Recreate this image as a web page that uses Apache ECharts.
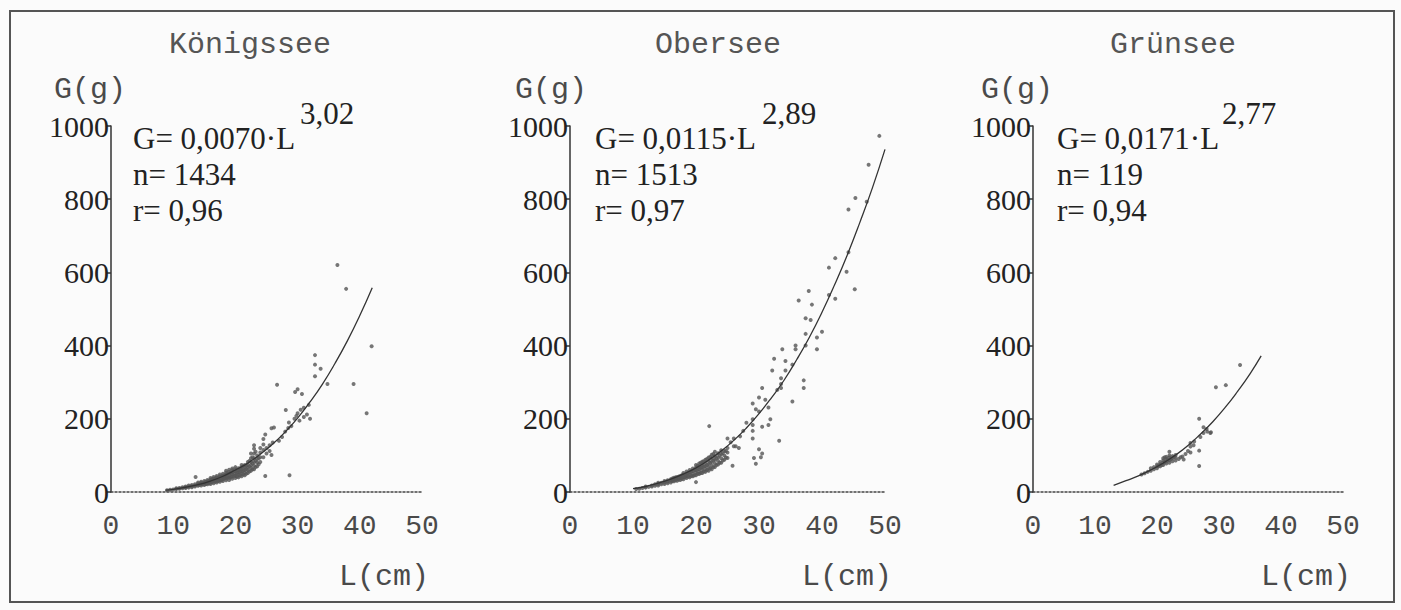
<!DOCTYPE html>
<html>
<head>
<meta charset="utf-8">
<script src="https://cdn.jsdelivr.net/npm/echarts@6/dist/echarts.min.js"></script>
<style>
html,body{margin:0;padding:0;background:#fbfbfb;}
#chart{width:1401px;height:610px;}
</style>
</head>
<body>
<div id="chart"></div>
<script>
// ---------- data ----------
const lakes = ['Königssee', 'Obersee', 'Grünsee'];
const xTicks = [0, 10, 20, 30, 40, 50];
const yTicks = [0, 200, 400, 600, 800, 1000];
const coefficients = ['0,0070', '0,0115', '0,0171'];
const exponents = ['3,02', '2,89', '2,77'];
const nValues = ['1434', '1513', '119'];
const rValues = ['0,96', '0,97', '0,94'];

const koenigsseePoints = [
  [9,5],[9.5,6],[10,7],[10.5,8],[10.5,10],[11,9],[11,11],[11.5,10],[11.5,13],
  [12,11],[12,13],[12,15],[12.5,12],[12.5,15],[12.5,18],
  [13,13],[13,16],[13,19],[13.5,15],[13.5,18],[13.5,21],[13.6,41],
  [14,17],[14,20],[14,23],[14,26],[14.5,18],[14.5,22],[14.5,25],[14.5,28],
  [15,19],[15,23],[15,26],[15,30],[15.5,21],[15.5,25],[15.5,29],[15.5,33],
  [16,22],[16,26],[16,30],[16,34],[16,38],[16.5,24],[16.5,29],[16.5,33],[16.5,37],[16.5,41],
  [17,26],[17,31],[17,35],[17,40],[17,44],[17.5,28],[17.5,33],[17.5,38],[17.5,43],[17.5,48],
  [18,30],[18,35],[18,40],[18,45],[18,50],[18.5,32],[18.5,37],[18.5,42],[18.5,47],[18.5,53],[18.5,58],
  [19,33],[19,39],[19,44],[19,50],[19,55],[19,61],[19.5,36],[19.5,42],[19.5,48],[19.5,54],[19.5,60],[19.5,64],
  [20,38],[20,44],[20,50],[20,56],[20,62],[20,68],[20.5,40],[20.5,47],[20.5,53],[20.5,59],[20.5,65],
  [21,43],[21,50],[21,56],[21,62],[21,68],[21,74],[21.5,46],[21.5,53],[21.5,60],[21.5,67],[21.5,74],
  [22,52],[22,60],[22,67],[22,74],[22,82],[22.5,58],[22.5,66],[22.5,74],[22.5,82],[22.5,92],[22.5,105],
  [23,62],[23,72],[23,82],[23,92],[23,105],[23,118],[23,128],[23.5,70],[23.5,80],[23.5,90],[23.5,100],
  [24,82],[24,95],[24,108],[24,120],[24.5,95],[24.5,115],[24.5,130],[24.5,145],[24.8,157],[24.8,44],
  [25,105],[25,120],[25.5,112],[25.5,128],[25.8,101],[25.8,174],[26,135],
  [18.25,38],[18.25,46],[18.75,40],[18.75,50],[19.25,41],[19.25,52],[19.75,45],[19.75,57],
  [20.25,42],[20.25,51],[20.25,60],[20.75,45],[20.75,55],[20.75,64],[21.25,48],[21.25,58],[21.25,70],
  [21.75,50],[21.75,62],[21.75,72],[22.25,56],[22.25,70],[22.25,85],[22.75,62],[22.75,78],[22.75,95],
  [23.25,68],[23.25,85],[23.25,110],[23.75,76],[23.75,92],[17.25,30],[17.25,38],[17.75,32],[17.75,42],
  [16.25,27],[16.25,35],[16.75,28],[16.75,36],[15.25,22],[15.25,28],[15.75,24],[15.75,30],[14.25,20],[14.75,22],
  [26.2,176],[26.7,293],[27,140],[27.5,150],[28,165],[28.1,224],[28.6,190],[28.7,46],[28.5,175],
  [29,180],[29.5,200],[29.6,273],[29.8,208],[30,215],[30,281],[30.3,195],[30.5,225],[30.7,268],
  [31,230],[31,205],[31.5,212],[31.8,238],[32,200],[32.8,374],[32.8,348],[32.8,316],[33.7,337],
  [34.8,295],[36.4,620],[37.8,555],[39,295],[41.1,215],[41.9,398]
];
const oberseePoints = [
  [10.5,8],[11,9],[11.5,11],[12,12],[12,15],[12.5,14],[13,15],[13,18],[13.5,17],[13.5,21],
  [14,18],[14,22],[14,25],[14.5,21],[14.5,25],[15,22],[15,26],[15,30],[15.5,24],[15.5,28],[15.5,32],
  [16,26],[16,31],[16,35],[16.5,29],[16.5,34],[16.5,39],[17,31],[17,36],[17,41],[17.5,33],[17.5,38],[17.5,44],
  [18,35],[18,41],[18,47],[18,52],[18.5,38],[18.5,44],[18.5,50],[18.5,56],
  [19,40],[19,47],[19,53],[19,60],[19.5,43],[19.5,50],[19.5,57],[19.5,64],
  [20,27],[20,46],[20,53],[20,60],[20,67],[20,74],[20.5,49],[20.5,56],[20.5,63],[20.5,70],[20.5,78],
  [21,52],[21,60],[21,67],[21,75],[21,83],[21.5,55],[21.5,63],[21.5,71],[21.5,80],[21.5,88],
  [22,58],[22,67],[22,76],[22,85],[22,94],[22.1,180],[22.5,62],[22.5,72],[22.5,82],[22.5,92],[22.5,102],
  [23,68],[23,78],[23,88],[23,98],[23,110],[23.5,75],[23.5,85],[23.5,95],[23.5,106],
  [24,80],[24,92],[24,104],[24,114],[24.5,88],[24.5,100],[24.5,112],[25,93],[25,108],[25,120],
  [18.25,40],[18.25,48],[18.75,42],[18.75,52],[19.25,44],[19.25,56],[19.75,46],[19.75,60],
  [20.25,50],[20.25,62],[20.25,72],[20.75,52],[20.75,66],[20.75,80],[21.25,56],[21.25,70],[21.25,84],
  [21.75,60],[21.75,74],[21.75,90],[22.25,64],[22.25,80],[22.25,96],[22.75,68],[22.75,86],[22.75,104],
  [23.25,74],[23.25,92],[23.75,80],[23.75,100],[24.25,86],[24.25,106],[24.75,94],[24.75,112],
  [17.25,34],[17.25,42],[17.75,36],[17.75,46],[16.25,30],[16.25,37],[16.75,32],[16.75,40],
  [25.8,72],[25,146],[25.5,136],[26,125],[26,146],[26.3,125],[26.8,120],[27,152],[27.5,167],[28,189],
  [29,146],[29,167],[29,183],[29,199],[29.2,93],[29.5,77],[30,117],[30.3,95],[30.5,105],
  [29,242],[29.5,226],[30,220],[30.5,178],[30.5,284],[30,258],[31,252],[31.5,231],[31.8,199],[31.5,183],
  [32.1,332],[32.4,364],[32.9,279],[33.2,140],[33.5,311],[33.5,295],[33.5,284],[33.7,390],[34.2,358],[34.2,332],
  [35.3,348],[35.3,247],[35.8,400],[35.8,390],[36.3,523],[37.1,305],[37.1,284],[37.4,432],[37.4,400],[37.4,475],
  [37.9,549],[38.2,470],[38.4,512],[39.2,422],[39.2,390],[40,438],[41.1,538],[41.1,613],[42.1,528],[42.1,639],
  [43.9,602],[44.2,655],[44.2,772],[45.2,554],[45.3,803],[47.1,793],[47.4,894],[49.1,973]
];
const gruenseePoints = [
  [17.5,48],[18,51],[18.5,55],[19,58],[19,65],[19.5,62],[19.5,68],[20,65],[20,70],[20,75],
  [20.5,70],[20.5,76],[20.5,82],[21,74],[21,80],[21,86],[21,92],[21.5,78],[21.5,84],[21.5,90],[21.5,96],
  [22,80],[22,87],[22,94],[22,100],[22,110],[22.5,84],[22.5,92],[22.5,98],[23,86],[23,94],[23,101],
  [20.25,72],[20.75,74],[21.25,82],[21.25,95],[21.75,88],[22.25,90],[22.75,96],
  [23.5,90],[23.8,95],[24.3,89],[24.1,97],[24.6,104],[25,112],[25.4,108],[25.4,124],[25.4,134],
  [25.9,128],[26,138],[26.8,113],[26.8,71],[26.8,200],[27,150],[27.5,161],[27.5,177],[28,172],
  [28.1,165],[28.6,161],[28.7,163],[29.5,286],[31.1,292],[33.4,347]
];
const koenigsseeCurve = [[8.8,5],[10,7],[12,13],[14,20],[16,30],[18,43],[20,60],[22,79],[24,103],[26,131],
  [28,164],[30,202],[32,246],[34,295],[36,351],[38,413],[40,482],[42,558]];
const oberseeCurve = [[10,9],[12,15],[14,24],[16,35],[18,49],[20,66],[22,87],[24,112],[26,141],[28,175],
  [30,214],[32,258],[34,306],[36,362],[38,423],[40,491],[42,566],[44,647],[46,736],[48,831],[50,936]];
const gruenseeCurve = [[13,18],[15,31],[17,44],[19,60],[21,79],[23,101],[25,127],[27,158],[29,192],
  [31,231],[33,275],[35,323],[36.8,372]];

const pointSets = [koenigsseePoints, oberseePoints, gruenseePoints];
const curveSets = [koenigsseeCurve, oberseeCurve, gruenseeCurve];

// ---------- layout ----------
const panels = [
  {left:111, width:311, titleX:250, ggX:90,   lcmX:384,  fX:133,  supX:300},
  {left:570, width:315, titleX:718, ggX:551,  lcmX:847,  fX:595,  supX:762},
  {left:1033,width:310, titleX:1173,ggX:1017, lcmX:1306, fX:1057, supX:1222}
];
const gridTop = 126, gridHeight = 366;
const mono = '"Liberation Mono", "DejaVu Sans Mono", monospace';
const serif = '"Liberation Serif", "DejaVu Serif", serif';
const monoColor = '#4a4a4a';
const serifColor = '#222';

const grids = [], xAxes = [], yAxes = [], series = [], graphics = [];
graphics.push({type:'rect', shape:{x:10, y:11, width:1384, height:591},
  style:{fill:'none', stroke:'#555', lineWidth:2}, silent:true});

panels.forEach((p, i) => {
  grids.push({left:p.left, top:gridTop, width:p.width, height:gridHeight, containLabel:false, outerBoundsMode:'none'});
  xAxes.push({
    type:'value', gridIndex:i, min:xTicks[0], max:xTicks[xTicks.length-1], interval:xTicks[1]-xTicks[0],
    axisLine:{show:true, onZero:false, lineStyle:{color:'#444', width:1.5, type:[2,2]}},
    axisTick:{show:false}, splitLine:{show:false},
    axisLabel:{fontFamily:mono, fontSize:28, color:monoColor, margin:20, formatter:v => String(v)}
  });
  yAxes.push({
    type:'value', gridIndex:i, min:yTicks[0], max:yTicks[yTicks.length-1], interval:yTicks[1]-yTicks[0],
    axisLine:{show:true, lineStyle:{color:'#333', width:1.5}},
    axisTick:{show:true, length:4, lineStyle:{color:'#333', width:1.5}},
    splitLine:{show:false},
    axisLabel:{fontFamily:serif, fontSize:30, color:serifColor, margin:2, formatter:v => String(v)}
  });
  series.push({
    type:'scatter', xAxisIndex:i, yAxisIndex:i, data:pointSets[i], symbolSize:4,
    itemStyle:{color:'#555'}, silent:true
  });
  series.push({
    type:'line', xAxisIndex:i, yAxisIndex:i, data:curveSets[i], smooth:true, showSymbol:false,
    lineStyle:{color:'#333', width:1.3}, silent:true
  });
  graphics.push({type:'text', x:p.titleX, y:45, style:{text:lakes[i], font:'30px '+mono, fill:'#555', textAlign:'center', textVerticalAlign:'middle'}});
  graphics.push({type:'text', x:p.ggX, y:90, style:{text:'G(g)', font:'30px '+mono, fill:monoColor, textAlign:'center', textVerticalAlign:'middle'}});
  graphics.push({type:'text', x:p.lcmX, y:577, style:{text:'L(cm)', font:'30px '+mono, fill:monoColor, textAlign:'center', textVerticalAlign:'middle'}});
  graphics.push({type:'text', x:p.fX, y:138, style:{text:'G= ' + coefficients[i] + '·L', font:'31px '+serif, fill:serifColor, textAlign:'left', textVerticalAlign:'middle'}});
  graphics.push({type:'text', x:p.supX, y:113, style:{text:exponents[i], font:'31px '+serif, fill:serifColor, textAlign:'left', textVerticalAlign:'middle'}});
  graphics.push({type:'text', x:p.fX, y:174, style:{text:'n= ' + nValues[i], font:'31px '+serif, fill:serifColor, textAlign:'left', textVerticalAlign:'middle'}});
  graphics.push({type:'text', x:p.fX, y:210, style:{text:'r= ' + rValues[i], font:'31px '+serif, fill:serifColor, textAlign:'left', textVerticalAlign:'middle'}});
});

const chart = echarts.init(document.getElementById('chart'), null, {renderer:'svg'});
chart.setOption({
  backgroundColor:'#fbfbfb',
  animation:false,
  grid:grids, xAxis:xAxes, yAxis:yAxes, series:series, graphic:graphics
});
</script>
</body>
</html>
